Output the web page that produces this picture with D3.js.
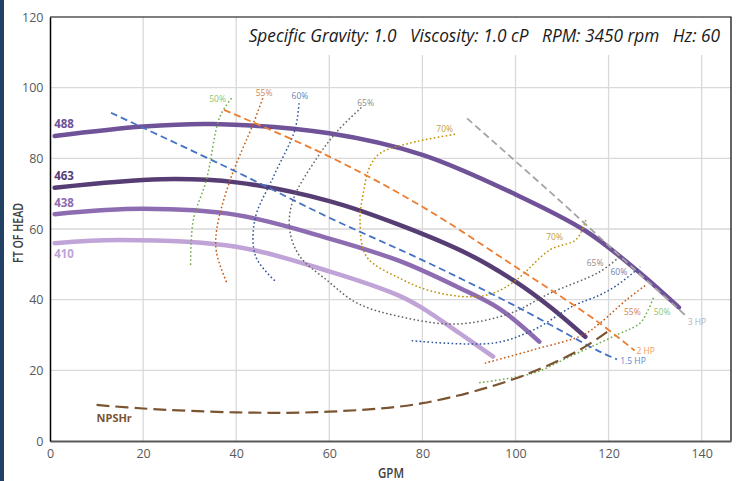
<!DOCTYPE html>
<html>
<head>
<meta charset="utf-8">
<script src="https://cdn.jsdelivr.net/npm/d3@7"></script>
<style>
	body { margin: 0; background: #fff; }
	svg { display: block; font-family: "Open Sans", sans-serif; }
</style>
</head>
<body>
<svg id="chart" width="740" height="481"></svg>
<script>
// axis ticks
var gpmTicks = [0, 20, 40, 60, 80, 100, 120, 140];
var headTicks = [0, 20, 40, 60, 80, 100, 120];

// impeller curves [gpm, ft]
var imp488 = [[1, 86.3], [20, 89.0], [35, 89.7], [60, 87.1], [80, 81.0], [100, 69.8], [115, 59.5], [126, 48.4], [135.1, 37.8]];
var imp463 = [[1, 71.7], [24, 74.1], [40, 73.2], [60, 67.9], [75.2, 61.1], [90, 52.8], [100, 45.1], [107.4, 38.0], [115, 29.5]];
var imp438 = [[1, 64.2], [20, 65.7], [40, 64.0], [60, 57.3], [75.2, 50.9], [88, 43.3], [96.6, 37.4], [105.1, 28.1]];
var imp410 = [[1, 56.0], [15, 56.9], [40, 55.0], [60, 48.0], [75.2, 41.0], [80, 37.6], [88, 30.5], [95.2, 23.9]];
var npshr = [[10, 10.2], [20, 9.2], [40, 8.1], [60, 8.3], [80, 10.7], [100, 17.7], [113.8, 25.8], [120.1, 31.3]];

// power lines
var hp15 = [[13.1, 92.9], [40, 76.2], [60, 63.2], [80, 51.2], [100, 38.2], [118.1, 25.3], [121.8, 23.1]];
var hp2 = [[37.4, 93.7], [60, 80.5], [80, 66.3], [100, 49.3], [117.4, 34.0], [125.6, 25.6]];
var hp3 = [[89.6, 91.3], [110.2, 67.2], [122.4, 52.4], [136.4, 35.7]];

// efficiency lines
var eff50a = [[39.0, 97.0], [36.5, 91.8], [33.6, 73.9], [30.8, 62.6], [30.2, 49.8]];
var eff50b = [[92.2, 16.5], [103.8, 19.2], [111.7, 23.9], [121.7, 30.0], [126.7, 33.3], [128.5, 37.1], [129.7, 40.8]];
var eff55a = [[45.7, 97.0], [43.7, 89.9], [38.7, 73.9], [35.8, 59.7], [35.8, 53.1], [38.1, 44.4]];
var eff55b = [[93.4, 22.0], [103.8, 25.8], [114.5, 30.0], [118.1, 33.3], [123.8, 39.9], [128.1, 44.2]];
var eff60a = [[53.5, 95.6], [52.6, 88.0], [48.0, 74.8], [44.0, 62.6], [44.2, 52.2], [48.5, 45.1]];
var eff60b = [[77.7, 28.4], [95.2, 27.7], [103.8, 31.4], [112.4, 38.2], [118.1, 41.3], [121.5, 43.8], [126.0, 48.4], [126.8, 49.3]];
var eff65 = [[66.9, 94.4], [61.6, 87.5], [57.3, 80.0], [52.2, 68.2], [51.5, 59.7], [53.7, 52.2], [59.4, 45.6], [66.0, 39.0],
	[75.2, 35.2], [87.3, 33.1], [98.8, 36.1], [107.4, 41.8], [118.1, 47.9], [122.4, 52.2]];
var eff70 = [[87.0, 86.8], [77.3, 84.3], [70.9, 81.4], [68.7, 77.6], [67.3, 70.1], [66.6, 62.6], [68.0, 52.2], [75.2, 46.0],
	[82.0, 42.4], [90.5, 40.8], [95.5, 42.0], [100.2, 45.6], [107.4, 54.1], [113.1, 57.1], [115.2, 63.0]];

// labels [gpm, ft, text]
var impLabels = [[0.9, 89.6, "488"], [0.9, 75.1, "463"], [0.9, 67.3, "438"], [0.9, 53.0, "410"]];
var effLabels = [[36.0, 96.7, "50%"], [46.0, 98.4, "55%"], [53.7, 97.6, "60%"], [67.8, 95.6, "65%"], [84.8, 88.2, "70%"],
	[108.4, 57.6, "70%"], [117.1, 50.3, "65%"], [122.2, 47.9, "60%"], [125.1, 36.4, "55%"], [131.5, 36.4, "50%"]];
var hpLabels = [[122.5, 22.6, "1.5 HP"], [126.0, 25.6, "2 HP"], [137.0, 33.8, "3 HP"]];

var width = 740, height = 481;
var mLeft = 50, mRight = 731, mTop = 17, mBottom = 441;

var svg = d3.select("#chart");

svg.append("rect").attr("x", 0).attr("y", 0).attr("width", 4).attr("height", height).attr("fill", "#223f64");

var x = d3.scaleLinear().domain([0, 146.3]).range([mLeft, mRight]);
var y = d3.scaleLinear().domain([0, 120]).range([mBottom, mTop]);

// gridlines
svg.append("g").selectAll("line")
	.data(headTicks.filter(function(d) { return d > 0 && d < 120; }))
	.enter().append("line")
	.attr("x1", mLeft).attr("x2", mRight)
	.attr("y1", function(d) { return y(d); }).attr("y2", function(d) { return y(d); })
	.attr("stroke", "#d9d9d9").attr("stroke-width", 1.3);

svg.append("g").selectAll("line")
	.data(gpmTicks.filter(function(d) { return d > 0; }))
	.enter().append("line")
	.attr("x1", function(d) { return x(d); }).attr("x2", function(d) { return x(d); })
	.attr("y1", mTop).attr("y2", mBottom)
	.attr("stroke", "#d9d9d9").attr("stroke-width", 1.3);

// white box behind the title
svg.append("rect").attr("x", 242).attr("y", mTop + 1).attr("width", mRight - 243).attr("height", 37).attr("fill", "#fff");

// frame
svg.append("path")
	.attr("d", "M" + mLeft + "," + mTop + "H" + mRight + "V" + mBottom)
	.attr("fill", "none").attr("stroke", "#000").attr("stroke-width", 1.2);

// axes
var xAxis = svg.append("g")
	.attr("transform", "translate(0," + mBottom + ")")
	.call(d3.axisBottom(x).tickValues(gpmTicks).tickSize(0).tickPadding(8));
xAxis.select(".domain").attr("stroke", "#595959").attr("stroke-width", 2);

var yAxis = svg.append("g")
	.attr("transform", "translate(" + mLeft + ",0)")
	.call(d3.axisLeft(y).tickValues(headTicks).tickSize(0).tickPadding(6.5));
yAxis.select(".domain").attr("stroke", "#000").attr("stroke-width", 1.5);

svg.selectAll(".tick text")
	.attr("fill", "#595959")
	.style("font-family", "Open Sans, sans-serif")
	.style("font-size", "12.5px");

svg.append("text")
	.attr("transform", "translate(23,233) rotate(-90)")
	.attr("text-anchor", "middle")
	.attr("fill", "#404040")
	.attr("textLength", 60).attr("lengthAdjust", "spacingAndGlyphs")
	.style("font-size", "13.5px").style("font-weight", 600)
	.text("FT OF HEAD");

svg.append("text")
	.attr("x", 391).attr("y", 477.5)
	.attr("text-anchor", "middle")
	.attr("fill", "#404040")
	.attr("textLength", 26).attr("lengthAdjust", "spacingAndGlyphs")
	.style("font-size", "13.5px").style("font-weight", 600)
	.text("GPM");

var title = svg.append("text")
	.attr("x", 720).attr("y", 42)
	.attr("text-anchor", "end")
	.attr("fill", "#1a1a1a")
	.style("font-size", "16px").style("font-style", "italic")
	.style("white-space", "pre")
	.text("Specific Gravity: 1.0   Viscosity: 1.0 cP   RPM: 3450 rpm   Hz: 60");

// fit title width to the reference span
var tw = title.node().getComputedTextLength();
title.style("font-size", (16 * 472 / tw) + "px");

var smooth = d3.line()
	.x(function(d) { return x(d[0]); })
	.y(function(d) { return y(d[1]); })
	.curve(d3.curveCatmullRom.alpha(0.5));

function drawLine(data, color, w, dash) {
	svg.append("path")
		.datum(data)
		.attr("d", smooth)
		.attr("fill", "none")
		.attr("stroke", color)
		.attr("stroke-width", w)
		.attr("stroke-dasharray", dash || null)
		.attr("stroke-linecap", dash ? "butt" : "round");
}

// impeller curves
drawLine(imp410, "#c0a3d7", 4.5);
drawLine(imp438, "#8e6cb2", 4.5);
drawLine(imp463, "#563d74", 4.5);
drawLine(imp488, "#6f5297", 4.5);

// efficiency
var dot = "1.6,2.4";
drawLine(eff50a, "#70ad47", 1.5, dot);
drawLine(eff50b, "#70ad47", 1.5, dot);
drawLine(eff55a, "#c55a11", 1.5, dot);
drawLine(eff55b, "#c55a11", 1.5, dot);
drawLine(eff60a, "#2f5597", 1.5, dot);
drawLine(eff60b, "#2f5597", 1.5, dot);
drawLine(eff65, "#636363", 1.5, dot);
drawLine(eff70, "#bf9000", 1.5, dot);

// power
drawLine(hp15, "#4472c4", 1.8, "7,4");
drawLine(hp2, "#ed7d31", 1.8, "7,4");
drawLine(hp3, "#a5a5a5", 1.8, "7,4");

// NPSHr
drawLine(npshr, "#7b5431", 2.2, "13,6");

// labels
var impColors = ["#6f5297", "#563d74", "#8e6cb2", "#c0a3d7"];
svg.append("g").selectAll("text")
	.data(impLabels)
	.enter().append("text")
	.attr("x", function(d) { return x(d[0]); })
	.attr("y", function(d) { return y(d[1]); })
	.attr("dy", "0.35em")
	.attr("fill", function(d, i) { return impColors[i]; })
	.style("font-size", "11.5px").style("font-weight", 700)
	.text(function(d) { return d[2]; });

svg.append("text")
	.attr("x", x(10)).attr("y", y(6.5))
	.attr("dy", "0.35em")
	.attr("fill", "#7b5431")
	.style("font-size", "11px").style("font-weight", 700)
	.text("NPSHr");

var effColors = { "50%": "#8fc46b", "55%": "#d08652", "60%": "#6a84b4", "65%": "#8c8c8c", "70%": "#c4a042" };
svg.append("g").selectAll("text")
	.data(effLabels)
	.enter().append("text")
	.attr("x", function(d) { return x(d[0]); })
	.attr("y", function(d) { return y(d[1]); })
	.attr("dy", "0.35em")
	.attr("text-anchor", "middle")
	.attr("fill", function(d) { return effColors[d[2]]; })
	.style("font-size", "8.5px")
	.text(function(d) { return d[2]; });

var hpColors = ["#5b87d2", "#f39a5e", "#b3b3b3"];
svg.append("g").selectAll("text")
	.data(hpLabels)
	.enter().append("text")
	.attr("x", function(d) { return x(d[0]); })
	.attr("y", function(d) { return y(d[1]); })
	.attr("dy", "0.35em")
	.attr("fill", function(d, i) { return hpColors[i]; })
	.style("font-size", "8.5px")
	.text(function(d) { return d[2]; });
</script>
</body>
</html>
